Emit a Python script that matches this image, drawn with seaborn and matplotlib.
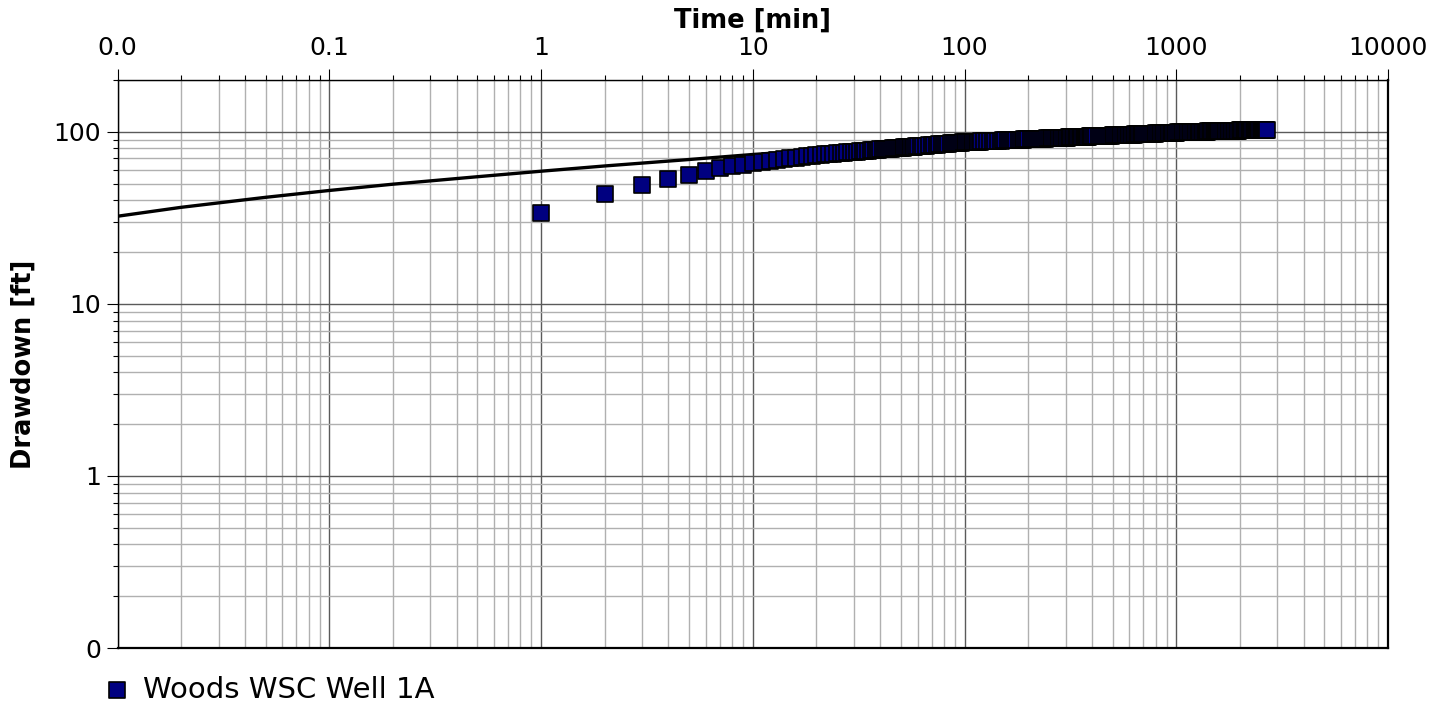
import pandas as pd
import matplotlib
matplotlib.use("Agg")
import matplotlib.pyplot as plt
import seaborn as sns
from matplotlib.ticker import FixedLocator, FixedFormatter, LogLocator, NullFormatter

# Observed drawdown, Woods WSC Well 1A (readings taken off the chart)
time_min = (list(range(1, 61)) + list(range(62, 121, 2)) + list(range(124, 201, 4))
            + list(range(205, 401, 5)) + list(range(410, 701, 10))
            + list(range(715, 1001, 15)) + list(range(1020, 1601, 20))
            + list(range(1630, 2681, 30)))

drawdown_early = [
    33.7, 43.4, 49.3, 53.3, 56.1, 59.3, 61.5, 63.1, 64.3, 65.5,
    66.6, 67.6, 68.5, 69.3, 70.1, 70.8, 71.5, 72.1, 72.7, 73.3,
    73.7, 74.0, 74.4, 74.7, 75.1, 75.4, 75.7, 76.0, 76.2, 76.5,
    76.8, 77.0, 77.3, 77.5, 77.8, 78.0, 78.2, 78.5, 78.7, 78.9,
    79.1, 79.3, 79.5, 79.7, 79.9, 80.1, 80.2, 80.4, 80.6, 80.8,
    80.9, 81.1, 81.3, 81.4, 81.6, 81.8, 81.9, 82.1, 82.2, 82.4,
]
drawdown_mid = [
    # 62-120 every 2 min
    82.6, 82.9, 83.2, 83.5, 83.7, 84.0, 84.2, 84.4, 84.7, 84.9,
    85.1, 85.3, 85.6, 85.8, 86.0, 86.2, 86.4, 86.6, 86.7, 87.0,
    87.1, 87.2, 87.3, 87.4, 87.5, 87.6, 87.6, 87.7, 87.8, 87.9,
    # 124-200 every 4 min
    88.1, 88.2, 88.4, 88.5, 88.7, 88.8, 88.9, 89.1, 89.2, 89.3,
    89.4, 89.6, 89.7, 89.8, 89.9, 90.0, 90.1, 90.2, 90.3, 90.4,
    # 205-400 every 5 min
    90.6, 90.7, 90.8, 90.9, 91.0, 91.2, 91.3, 91.4, 91.5, 91.6,
    91.7, 91.8, 91.9, 92.0, 92.1, 92.2, 92.3, 92.3, 92.4, 92.5,
    92.6, 92.7, 92.8, 92.9, 92.9, 93.0, 93.1, 93.2, 93.2, 93.3,
    93.4, 93.5, 93.5, 93.6, 93.7, 93.8, 93.8, 93.9, 94.0, 94.0,
]
drawdown_late = [
    # 410-700 every 10 min
    94.2, 94.3, 94.4, 94.5, 94.6, 94.8, 94.9, 95.0, 95.1, 95.2,
    95.3, 95.4, 95.5, 95.6, 95.7, 95.8, 95.9, 96.0, 96.1, 96.2,
    96.3, 96.4, 96.4, 96.5, 96.6, 96.7, 96.8, 96.9, 96.9, 97.0,
    # 715-1000 every 15 min
    97.1, 97.2, 97.4, 97.5, 97.6, 97.7, 97.8, 97.9, 98.0, 98.1,
    98.2, 98.3, 98.4, 98.5, 98.5, 98.6, 98.7, 98.8, 98.9, 99.0,
    # 1020-1600 every 20 min
    99.1, 99.2, 99.2, 99.3, 99.4, 99.4, 99.5, 99.6, 99.7, 99.7,
    99.8, 99.9, 99.9, 100.0, 100.0, 100.1, 100.2, 100.2, 100.3, 100.3,
    100.4, 100.5, 100.5, 100.6, 100.6, 100.7, 100.7, 100.8, 100.8, 100.9,
    # 1630-2680 every 30 min
    101.0, 101.0, 101.1, 101.2, 101.2, 101.3, 101.4, 101.4, 101.5, 101.6,
    101.6, 101.7, 101.8, 101.8, 101.9, 101.9, 102.0, 102.1, 102.1, 102.2,
    102.2, 102.3, 102.3, 102.4, 102.4, 102.5, 102.5, 102.6, 102.6, 102.7,
    102.7, 102.8, 102.8, 102.9, 102.9, 103.0,
]
drawdown_ft = drawdown_early + drawdown_mid + drawdown_late

# fitted type curve
curve_time = [0.01, 0.02, 0.05, 0.1, 0.2, 0.5, 1, 2, 5, 10, 20, 50,
              100, 200, 500, 1000, 2000, 2680]
curve_drawdown = [32.3, 36.4, 41.6, 45.6, 49.6, 54.8, 59.0, 63.3, 69.0, 73.8, 78.3, 84.4,
                  89.0, 93.6, 99.7, 104.3, 109.0, 110.8]

x_ticks = [0.01, 0.1, 1, 10, 100, 1000, 10000]
x_tick_labels = ["0.0", "0.1", "1", "10", "100", "1000", "10000"]
y_ticks = [0.1, 1, 10, 100]
y_tick_labels = ["0", "1", "10", "100"]

obs = pd.DataFrame({"t": time_min, "s": drawdown_ft})
fit = pd.DataFrame({"t": curve_time, "s": curve_drawdown})

sns.set_style("white")
plt.rcParams["font.family"] = ["DejaVu Sans"]
plt.rcParams["text.color"] = "black"
plt.rcParams["axes.labelcolor"] = "black"
plt.rcParams["xtick.color"] = "black"
plt.rcParams["ytick.color"] = "black"

fig = plt.figure(figsize=(14.49, 7.11), dpi=100)
ax = fig.add_axes([0.0811, 0.0886, 0.8768, 0.7989])
ax.set_xscale("log")
ax.set_yscale("log")

sns.lineplot(data=fit, x="t", y="s", color="black", linewidth=2.4, ax=ax, zorder=2)
sns.scatterplot(data=obs, x="t", y="s", marker="s", s=145, color="#000080",
                edgecolor="black", linewidth=1.2, ax=ax, zorder=3,
                label="Woods WSC Well 1A", legend=False)

ax.set_xlim(0.01, 10000)
ax.set_ylim(0.1, 200)

ax.xaxis.set_major_locator(FixedLocator(x_ticks))
ax.xaxis.set_major_formatter(FixedFormatter(x_tick_labels))
ax.xaxis.set_minor_locator(LogLocator(base=10, subs=range(2, 10), numticks=20))
ax.xaxis.set_minor_formatter(NullFormatter())
ax.yaxis.set_major_locator(FixedLocator(y_ticks))
ax.yaxis.set_major_formatter(FixedFormatter(y_tick_labels))
ax.yaxis.set_minor_locator(LogLocator(base=10, subs=range(2, 10), numticks=20))
ax.yaxis.set_minor_formatter(NullFormatter())

ax.xaxis.tick_top()
ax.xaxis.set_label_position("top")
ax.tick_params(axis="x", which="both", top=True, bottom=False, direction="out",
               labelsize=18, pad=6.5, width=0.8, color="black", labelcolor="black")
ax.tick_params(axis="y", which="both", left=True, right=False, direction="out",
               labelsize=18, pad=4, width=0.8, color="black", labelcolor="black")
ax.tick_params(which="major", length=8)
ax.tick_params(which="minor", length=3.6)

ax.grid(which="major", color="#5a5a5a", linewidth=1.0)
ax.grid(which="minor", color="#b0b0b0", linewidth=1.0)
ax.set_axisbelow(True)

for side in ["top", "left"]:
    ax.spines[side].set_linewidth(1.0)
for side in ["right", "bottom"]:
    ax.spines[side].set_linewidth(1.6)
for sp in ax.spines.values():
    sp.set_color("black")

ax.set_xlabel("Time [min]", fontsize=18.5, fontweight="bold", labelpad=6, color="black")
ax.set_ylabel("Drawdown [ft]", fontsize=18.5, fontweight="bold", labelpad=12, color="black")

handles, labels = ax.get_legend_handles_labels()
fig.legend(handles, labels, loc="center left", bbox_to_anchor=(0.0715, 0.0295),
           frameon=False, fontsize=21, handlelength=0.95, handletextpad=0.4,
           borderpad=0, borderaxespad=0, markerscale=0.9)

fig.savefig("out.png", dpi=100)
